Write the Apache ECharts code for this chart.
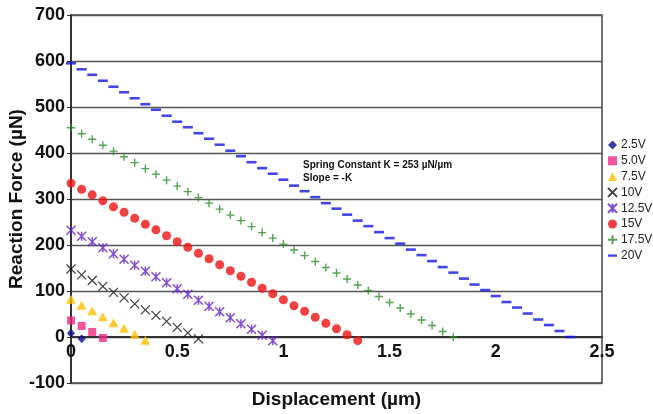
<!DOCTYPE html>
<html>
<head>
<meta charset="utf-8">
<script src="https://cdn.jsdelivr.net/npm/echarts@6/dist/echarts.min.js"></script>
<style>html,body{margin:0;padding:0;background:#fff}#c{width:653px;height:414px}</style>
</head>
<body>
<div id="c"></div>
<script>
// Displacement (µm) sample positions shared by all series
var displacement = [0,0.05,0.1,0.15,0.2,0.25,0.3,0.35,0.4,0.45,0.5,0.55,0.6,0.65,0.7,0.75,0.8,0.85,0.9,0.95,1.0,1.05,1.1,1.15,1.2,1.25,1.3,1.35,1.4,1.45,1.5,1.55,1.6,1.65,1.7,1.75,1.8,1.85,1.9,1.95,2.0,2.05,2.1,2.15,2.2,2.25,2.3,2.35];
var seriesNames = ['2.5V','5.0V','7.5V','10V','12.5V','15V','17.5V','20V'];
// Reaction force (µN) per voltage
var f2_5 = [8,-4];
var f5_0 = [36,24,11,-2];
var f7_5 = [82,69,57,44,31,19,6,-7];
var f10 = [148,135,123,110,97,85,72,59,47,34,21,9,-4];
var f12_5 = [232,219,207,194,181,169,156,143,131,118,105,93,80,67,55,42,29,17,4,-8];
var f15 = [334,321,309,296,283,271,258,245,233,220,207,195,182,170,157,144,132,119,106,94,81,68,56,43,30,18,5,-8];
var f17_5 = [455,442,430,417,404,392,379,366,354,341,328,316,303,291,278,265,253,240,227,215,202,189,177,164,151,139,126,113,101,88,75,63,50,37,25,12,0];
var f20 = [595,582,570,557,544,532,519,506,494,481,468,456,443,431,418,405,393,380,367,355,342,329,317,304,291,279,266,253,241,228,215,203,190,178,165,152,140,127,114,102,89,76,64,51,38,26,13,0];
var xTicks = [0,0.5,1,1.5,2,2.5];
var yTicks = [-100,0,100,200,300,400,500,600,700];
var annotation = ['Spring Constant K = 253 µN/µm','Slope = -K'];

var forces = [f2_5,f5_0,f7_5,f10,f12_5,f15,f17_5,f20];
function pts(arr){ return arr.map(function(y,i){ return [displacement[i], y]; }); }

var dashPath = 'path://M0,0L10,0L10,2.6L0,2.6Z';
var styles = [
  {symbol:'diamond', size:[8,9], item:{color:'#0a0a8a'}},
  {symbol:'rect', size:8, item:{color:'#f0287f'}},
  {symbol:'triangle', size:[10,9], item:{color:'#ffc000'}},
  {symbol:'path://M0,0L10,10M10,0L0,10', size:9, item:{color:'rgba(0,0,0,0)', borderColor:'#111', borderWidth:1.3}},
  {symbol:'path://M0,0L10,10M10,0L0,10M5,0L5,10', size:9, item:{color:'rgba(0,0,0,0)', borderColor:'#6322c8', borderWidth:1.5}},
  {symbol:'circle', size:9, item:{color:'#f01010'}},
  {symbol:'path://M5,0L5,10M0,5L10,5', size:8, item:{color:'rgba(0,0,0,0)', borderColor:'#2a8a2a', borderWidth:1.4}},
  {symbol:dashPath, size:[10,2.6], item:{color:'#1515e6'}}
];

var font = '"Liberation Sans", Arial, sans-serif';
var series = seriesNames.map(function(n,k){
  return {
    name:n, type:'scatter', data:pts(forces[k]),
    symbol:styles[k].symbol, symbolSize:styles[k].size, symbolKeepAspect:false,
    itemStyle:styles[k].item, emphasis:{disabled:true}, animation:false
  };
});

var chart = echarts.init(document.getElementById('c'), null, {renderer:'canvas'});
chart.setOption({
  animation:false,
  backgroundColor:'#fff',
  grid:{left:71, right:51, top:15, bottom:31, containLabel:false, outerBoundsMode:'none',
    show:true, borderColor:'#444', borderWidth:1.5, backgroundColor:'transparent'},
  xAxis:{
    type:'value', min:xTicks[0], max:xTicks[xTicks.length-1], interval:0.5,
    offset:-46,
    axisLine:{onZero:false, lineStyle:{color:'#333', width:2}},
    axisTick:{show:false},
    axisLabel:{color:'#111', fontFamily:font, fontWeight:'bold', fontSize:18, margin:6,
      formatter:function(v){ return String(v); }},
    splitLine:{show:false},
    name:'Displacement (µm)', nameLocation:'middle', nameGap:53, nameMoveOverlap:false,
    nameTextStyle:{color:'#111', fontFamily:font, fontWeight:'bold', fontSize:19}
  },
  yAxis:{
    type:'value', min:yTicks[0], max:yTicks[yTicks.length-1], interval:100,
    axisLine:{show:true, onZero:false, lineStyle:{color:'#333', width:2}},
    axisTick:{show:true, length:4, lineStyle:{color:'#333'}},
    axisLabel:{color:'#111', fontFamily:font, fontWeight:'bold', fontSize:18, margin:6},
    splitLine:{show:true, lineStyle:{color:'#555', width:1.3}},
    name:'Reaction Force (µN)', nameLocation:'middle', nameGap:45, nameMoveOverlap:false,
    nameTextStyle:{color:'#111', fontFamily:font, fontWeight:'bold', fontSize:19}
  },
  legend:{
    data:seriesNames.map(function(n,k){ return k===7 ? {name:n, icon:dashPath} : {name:n}; }),
    orient:'vertical', left:607, top:139, padding:0,
    itemWidth:9, itemHeight:9, itemGap:3.8,
    textStyle:{color:'#222', fontFamily:font, fontSize:12, padding:[0,0,0,-1]},
    selectedMode:false
  },
  graphic:[{
    type:'text', left:303, top:159,
    style:{text:annotation.join('\n'), fill:'#111', font:'bold 10px '+font, lineHeight:13}
  }],
  series:series
});
</script>
</body>
</html>
